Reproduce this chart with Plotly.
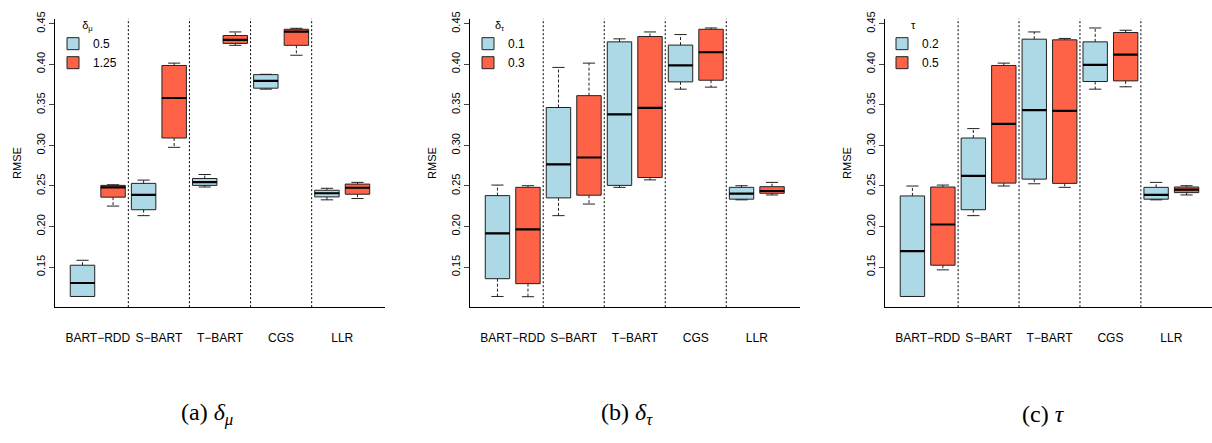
import plotly.graph_objects as go

methods = ["BART−RDD", "S−BART", "T−BART", "CGS", "LLR"]

# ---- panel (a): delta_mu ----
a_levels = ["0.5", "1.25"]
a1_wlo = [0.1138, 0.2134, 0.2487, 0.3693, 0.2329]
a1_q1  = [0.1138, 0.2207, 0.2507, 0.3705, 0.2365]
a1_med = [0.1304, 0.2389, 0.2547, 0.3795, 0.2410]
a1_q3  = [0.1523, 0.2532, 0.2592, 0.3872, 0.2447]
a1_whi = [0.1584, 0.2572, 0.2641, 0.3876, 0.2471]
a2_wlo = [0.2252, 0.2976, 0.4233, 0.4111, 0.2345]
a2_q1  = [0.2362, 0.3091, 0.4257, 0.4233, 0.2398]
a2_med = [0.2483, 0.3584, 0.4301, 0.4403, 0.2478]
a2_q3  = [0.2507, 0.3985, 0.4354, 0.4431, 0.2523]
a2_whi = [0.2515, 0.4014, 0.4398, 0.4443, 0.2544]

# ---- panel (b): delta_tau ----
b_levels = ["0.1", "0.3"]
b1_wlo = [0.1138, 0.2134, 0.2483, 0.3693, 0.2329]
b1_q1  = [0.1357, 0.2353, 0.2507, 0.3783, 0.2337]
b1_med = [0.1916, 0.2766, 0.3382, 0.3985, 0.2405]
b1_q3  = [0.2381, 0.3467, 0.4276, 0.4236, 0.2483]
b1_whi = [0.2511, 0.3961, 0.4313, 0.4366, 0.2503]
b2_wlo = [0.1135, 0.2277, 0.2575, 0.3718, 0.2389]
b2_q1  = [0.1296, 0.2386, 0.2604, 0.3803, 0.2410]
b2_med = [0.1964, 0.2851, 0.3462, 0.4148, 0.2438]
b2_q3  = [0.2483, 0.3613, 0.4342, 0.4431, 0.2491]
b2_whi = [0.2503, 0.4014, 0.4398, 0.4447, 0.2544]

# ---- panel (c): tau ----
c_levels = ["0.2", "0.5"]
c1_wlo = [0.1138, 0.2134, 0.2527, 0.3693, 0.2329]
c1_q1  = [0.1138, 0.2207, 0.2584, 0.3787, 0.2337]
c1_med = [0.1697, 0.2624, 0.3434, 0.3993, 0.2389]
c1_q3  = [0.2377, 0.3091, 0.4309, 0.4276, 0.2483]
c1_whi = [0.2499, 0.3207, 0.4398, 0.4447, 0.2544]
c2_wlo = [0.1466, 0.2499, 0.2483, 0.3722, 0.2389]
c2_q1  = [0.1523, 0.2535, 0.2532, 0.3795, 0.2418]
c2_med = [0.2025, 0.3264, 0.3426, 0.4118, 0.2454]
c2_q3  = [0.2487, 0.3985, 0.4301, 0.4391, 0.2487]
c2_whi = [0.2511, 0.4014, 0.4318, 0.4419, 0.2503]

y_ticks = [0.15, 0.20, 0.25, 0.30, 0.35, 0.40, 0.45]
colors = ["#ADD8E6", "#FF6347"]
legend_titles = ["δ<sub>μ</sub>", "δ<sub>τ</sub>", "τ"]
captions = ["(a) <i>δ</i><sub><i>μ</i></sub>", "(b) <i>δ</i><sub><i>τ</i></sub>", "(c) <i>τ</i>"]

panels = [
    (a_levels, [(a1_wlo, a1_q1, a1_med, a1_q3, a1_whi), (a2_wlo, a2_q1, a2_med, a2_q3, a2_whi)]),
    (b_levels, [(b1_wlo, b1_q1, b1_med, b1_q3, b1_whi), (b2_wlo, b2_q1, b2_med, b2_q3, b2_whi)]),
    (c_levels, [(c1_wlo, c1_q1, c1_med, c1_q3, c1_whi), (c2_wlo, c2_q1, c2_med, c2_q3, c2_whi)]),
]

W, H = 1212, 443
x_dom_px = [(55, 385), (470, 799.5), (885, 1212)]
x_ranges = [[0.1, 10.9], [0.1, 10.9], [0.1, 10.9 - (1214 - 1212) / 30.5]]
y_dom = [1 - 305 / H, 1 - 12 / H]
y_range = [0.1006, 0.456]
legend_x_px = [53, 468, 882]
caption_x_px = [207, 627, 1043]

FONT = "Liberation Sans, Arial, sans-serif"
fig = go.Figure()
layout = dict(
    width=W, height=H, margin=dict(l=0, r=0, t=0, b=0),
    paper_bgcolor="white", plot_bgcolor="white", boxmode="overlay",
    font=dict(family=FONT, size=11, color="black"),
    shapes=[], annotations=[],
)

n = len(methods)
for p, (levels, groups) in enumerate(panels):
    sfx = "" if p == 0 else str(p + 1)
    xa, ya = "x" + sfx, "y" + sfx
    leg = "legend" + sfx
    for g, (wlo, q1, med, q3, whi) in enumerate(groups):
        pos = [2 * i + 1 + g for i in range(n)]
        fig.add_trace(go.Box(
            x=pos, q1=q1, median=med, q3=q3, lowerfence=q1, upperfence=q3,
            width=0.8, whiskerwidth=0, fillcolor=colors[g],
            line=dict(color="#222222", width=1), name=levels[g],
            xaxis=xa, yaxis=ya, legend=leg, showlegend=True, hoverinfo="skip",
        ))
        # whiskers (dashed)
        wx, wy = [], []
        for i in range(n):
            wx += [pos[i], pos[i], None, pos[i], pos[i], None]
            wy += [q3[i], whi[i], None, q1[i], wlo[i], None]
        fig.add_trace(go.Scatter(x=wx, y=wy, mode="lines", xaxis=xa, yaxis=ya,
                                 line=dict(color="#222222", width=1, dash="3px,2px"),
                                 showlegend=False, hoverinfo="skip"))
        # staples
        sx, sy = [], []
        for i in range(n):
            sx += [pos[i] - 0.2, pos[i] + 0.2, None, pos[i] - 0.2, pos[i] + 0.2, None]
            sy += [whi[i], whi[i], None, wlo[i], wlo[i], None]
        fig.add_trace(go.Scatter(x=sx, y=sy, mode="lines", xaxis=xa, yaxis=ya,
                                 line=dict(color="#222222", width=1),
                                 showlegend=False, hoverinfo="skip"))
        # thick medians
        mx, my = [], []
        for i in range(n):
            mx += [pos[i] - 0.4, pos[i] + 0.4, None]
            my += [med[i], med[i], None]
        fig.add_trace(go.Scatter(x=mx, y=my, mode="lines", xaxis=xa, yaxis=ya,
                                 line=dict(color="black", width=2.2),
                                 showlegend=False, hoverinfo="skip"))

    x0, x1 = x_dom_px[p]
    layout["xaxis" + sfx] = dict(
        domain=[x0 / W, x1 / W], range=x_ranges[p], anchor=ya,
        showline=True, linecolor="black", linewidth=1, showgrid=False, zeroline=False,
        tickmode="array", tickvals=[2 * i + 1.5 for i in range(n)], ticktext=methods,
        ticks="", ticklabelstandoff=19, tickfont=dict(size=12, family=FONT),
    )
    layout["yaxis" + sfx] = dict(
        domain=y_dom, range=y_range, anchor=xa,
        showline=True, linecolor="black", linewidth=1, showgrid=False, zeroline=False,
        tickmode="array", tickvals=y_ticks, ticktext=[f"{v:.2f}" for v in y_ticks],
        ticks="outside", ticklen=5, tickangle=-90, tickfont=dict(size=11, family=FONT),
        title=dict(text="RMSE", standoff=10, font=dict(size=11, family=FONT)),
    )
    for k in range(1, n):
        layout["shapes"].append(dict(
            type="line", xref=xa, yref=ya + " domain", x0=2 * k + 0.5, x1=2 * k + 0.5,
            y0=0, y1=1, line=dict(color="black", width=1, dash="2px,2px")))
    layout[leg] = dict(
        x=legend_x_px[p] / W, y=1 - 8 / H, xanchor="left", yanchor="top",
        bgcolor="rgba(0,0,0,0)", font=dict(size=12, family=FONT),
        title=dict(text=legend_titles[p], side="top center", font=dict(size=11, family=FONT)),
        tracegroupgap=0,
    )
    layout["annotations"].append(dict(
        text=captions[p], xref="paper", yref="paper", x=caption_x_px[p] / W, y=1 - 414 / H,
        xanchor="center", yanchor="middle", showarrow=False,
        font=dict(size=24, family="Liberation Serif, DejaVu Serif, serif", color="black")))

fig.update_layout(**layout)
fig.write_html("out.html")
